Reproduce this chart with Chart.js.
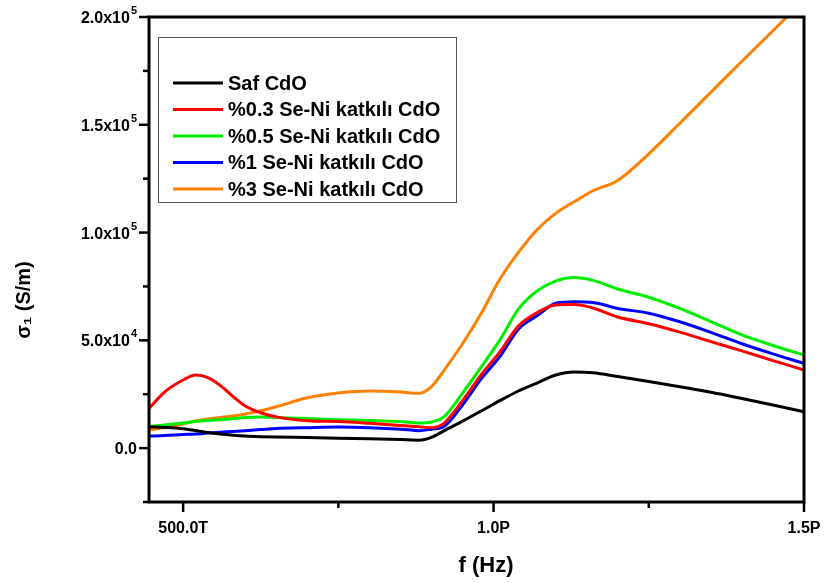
<!DOCTYPE html>
<html>
<head>
<meta charset="utf-8">
<script src="https://cdn.jsdelivr.net/npm/chart.js@4.4.0/dist/chart.umd.min.js"></script>
<style>
html, body { margin: 0; padding: 0; background: #fff; }
</style>
</head>
<body>
<canvas id="myChart" width="824" height="583"></canvas>
<script>
// frequency in THz (1e12 Hz)
var freqT = [445, 470, 500, 520, 540, 560, 580, 600, 625, 650, 700, 750, 800, 850, 880, 900,
    920, 950, 980, 1010, 1040, 1070, 1100, 1130, 1160, 1200, 1250, 1300, 1350, 1400, 1450, 1500];

// conductivity, S/m
var safCdO = [9900, 9600, 9000, 8200, 7200, 6500, 6000, 5600, 5300, 5100, 4900, 4600, 4300, 4000, 3700, 5000,
    8000, 12500, 17200, 22000, 26500, 30200, 33900, 35300, 35000, 33200, 30900, 28500, 25900, 23000, 20000, 16900];
var se03 = [18400, 26000, 31600, 33900, 32700, 29000, 24000, 19500, 16400, 14500, 12700, 12300, 11500, 10500, 9900, 9500,
    11500, 22000, 34000, 44600, 56600, 62800, 66400, 66600, 65000, 60800, 57700, 53800, 49400, 45100, 40600, 36200];
var se05 = [10000, 10700, 11600, 12300, 12800, 13200, 13700, 14200, 14400, 14200, 13700, 13200, 12800, 12300, 11600, 12100,
    14500, 25500, 37600, 50100, 64500, 72900, 77500, 79100, 77800, 73800, 70000, 64800, 58700, 52500, 47600, 43200];
var se1 = [5600, 5800, 6300, 6500, 7000, 7400, 7700, 8100, 8600, 9100, 9500, 9800, 9500, 8800, 8100, 8800,
    10000, 20000, 32100, 42400, 55200, 61400, 67200, 67900, 67600, 64800, 62600, 58600, 53700, 48400, 43700, 39300];
var se3 = [8400, 9600, 11200, 12600, 13500, 14200, 14900, 15800, 17300, 19200, 23400, 25600, 26500, 26000, 25400, 28500,
    36000, 48400, 62400, 78300, 90800, 101300, 108900, 114300, 119400, 124200, 136500, 150700, 165100, 179500, 193600, 208000];

var seriesNames = ['Saf CdO', '%0.3 Se-Ni katkılı CdO', '%0.5 Se-Ni katkılı CdO', '%1 Se-Ni katkılı CdO', '%3 Se-Ni katkılı CdO'];
var seriesColors = ['#000000', '#ff0000', '#00ee00', '#0000ff', '#ff8000'];

var xTickValues = [500, 750, 1000, 1250, 1500];
var xTickLabels = ['500.0T', '', '1.0P', '', '1.5P'];
var yTickValues = [-25000, 0, 25000, 50000, 75000, 100000, 125000, 150000, 175000, 200000];
var yTickLabels = ['', '0.0', '', '5.0x10', '', '1.0x10', '', '1.5x10', '', '2.0x10'];
var yTickExps = ['', '', '', '4', '', '5', '', '5', '', '5'];

var fontFam = '"Liberation Sans", Arial, sans-serif';

function toPoints(vals) {
    return freqT.map(function (f, i) { return { x: f, y: vals[i] }; });
}

var allSeries = [safCdO, se03, se05, se1, se3];

var framePlugin = {
    id: 'framePlugin',
    afterDraw: function (chart) {
        var ctx = chart.ctx, a = chart.chartArea;
        var xs = chart.scales.x, ys = chart.scales.y;
        ctx.save();
        ctx.strokeStyle = '#000';
        ctx.lineWidth = 3;
        ctx.strokeRect(a.left, a.top, a.right - a.left, a.bottom - a.top);

        // tick marks
        ctx.lineWidth = 2.5;
        xs.ticks.forEach(function (t, i) {
            var px = xs.getPixelForValue(t.value);
            var len = xTickLabels[i] ? 10 : 6;
            ctx.beginPath();
            ctx.moveTo(px, a.bottom);
            ctx.lineTo(px, a.bottom + len);
            ctx.stroke();
        });
        ctx.fillStyle = '#000';
        ctx.textBaseline = 'alphabetic';
        ys.ticks.forEach(function (t, i) {
            var py = ys.getPixelForValue(t.value);
            var len = yTickLabels[i] ? 10 : 6;
            ctx.beginPath();
            ctx.moveTo(a.left, py);
            ctx.lineTo(a.left - len, py);
            ctx.stroke();
            // tick label with superscript exponent
            if (yTickLabels[i]) {
                var right = a.left - 12;
                ctx.textAlign = 'right';
                if (yTickExps[i]) {
                    ctx.font = 'bold 11px ' + fontFam;
                    var ew = ctx.measureText(yTickExps[i]).width;
                    ctx.fillText(yTickExps[i], right, py - 3);
                    right -= ew + 1;
                }
                ctx.font = 'bold 16px ' + fontFam;
                ctx.fillText(yTickLabels[i], right, py + 6);
            }
        });

        // axis titles
        ctx.font = 'bold 22px ' + fontFam;
        ctx.textAlign = 'center';
        ctx.textBaseline = 'middle';
        ctx.fillText('f (Hz)', 486, 566);
        ctx.save();
        ctx.translate(24, 300);
        ctx.rotate(-Math.PI / 2);
        ctx.font = 'bold 20px ' + fontFam;
        ctx.fillText('\u03c3\u2081 (S/m)', 0, 0);
        ctx.restore();

        // legend box
        ctx.lineWidth = 1;
        ctx.strokeStyle = '#555';
        ctx.strokeRect(158.5, 37.5, 298, 165);
        ctx.font = 'bold 20px ' + fontFam;
        ctx.textAlign = 'left';
        chart.data.datasets.forEach(function (ds, i) {
            var y = 83 + i * 26.5;
            ctx.strokeStyle = ds.borderColor;
            ctx.lineWidth = 3;
            ctx.beginPath();
            ctx.moveTo(173, y);
            ctx.lineTo(223, y);
            ctx.stroke();
            ctx.fillText(ds.label, 228, y + 1);
        });
        ctx.restore();
    }
};

new Chart(document.getElementById('myChart'), {
    type: 'line',
    data: {
        datasets: allSeries.map(function (vals, i) {
            return {
                label: seriesNames[i],
                data: toPoints(vals),
                borderColor: seriesColors[i],
                backgroundColor: seriesColors[i],
                borderWidth: 3,
                pointRadius: 0,
                cubicInterpolationMode: 'monotone',
                fill: false
            };
        })
    },
    options: {
        responsive: false,
        animation: false,
        layout: { padding: { top: 17, right: 20, left: 0, bottom: 0 } },
        plugins: {
            legend: { display: false },
            tooltip: { enabled: false }
        },
        scales: {
            x: {
                type: 'linear',
                min: 445,
                max: 1500,
                afterBuildTicks: function (s) { s.ticks = xTickValues.map(function (v) { return { value: v }; }); },
                afterFit: function (s) { s.height = 81; s.paddingLeft = 0; s.paddingRight = 0; },
                grid: { display: false },
                border: { display: false },
                ticks: {
                    padding: 9,
                    maxRotation: 0,
                    autoSkip: false,
                    color: '#000',
                    font: { family: fontFam, size: 16, weight: 'bold' },
                    callback: function (v, i) { return xTickLabels[i]; }
                }
            },
            y: {
                type: 'linear',
                min: -25000,
                max: 200000,
                afterBuildTicks: function (s) { s.ticks = yTickValues.map(function (v) { return { value: v }; }); },
                afterFit: function (s) { s.width = 149; s.paddingTop = 0; s.paddingBottom = 0; },
                grid: { display: false },
                border: { display: false },
                ticks: { display: false }
            }
        }
    },
    plugins: [framePlugin]
});
</script>
</body>
</html>
